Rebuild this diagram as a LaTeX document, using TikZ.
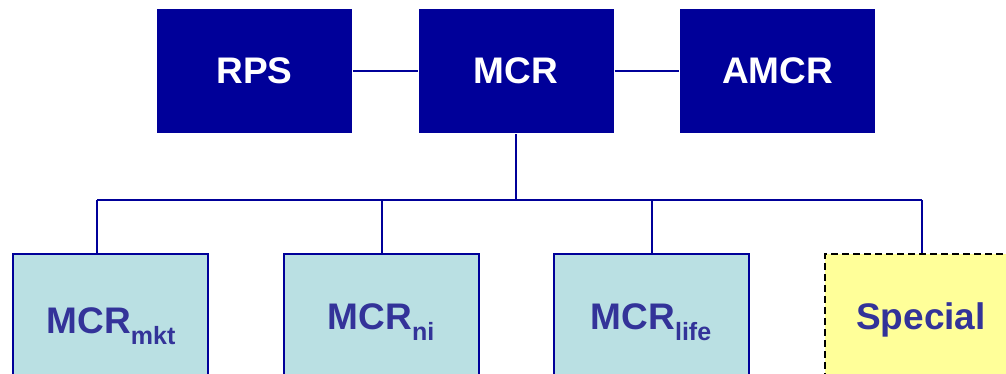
\documentclass[tikz,border=0pt]{standalone}
\usepackage{fontspec}
\setmainfont{Liberation Sans}
\usepackage{tikz}
\definecolor{box_dark}{RGB}{0,0,153}
\definecolor{box_light}{RGB}{186,224,227}
\definecolor{box_yell}{RGB}{255,255,153}
\definecolor{text_blue}{RGB}{51,51,153}
\newcommand\sub[1]{\raisebox{-0.3em}{\fontsize{25}{25}\selectfont#1}}

\begin{document}
\begin{tikzpicture}[x=1pt,y=-1pt,line width=2pt]
    \tikzstyle{unit}=[rectangle, minimum width=195pt, inner sep=0pt, font=\fontsize{37}{37}\selectfont\bfseries]
    \tikzstyle{unitup}=[style=unit, minimum height=124pt, fill=box_dark, text=white]
    \tikzstyle{unitdn}=[style=unit, minimum height=140pt, fill=box_light, draw=box_dark, text=text_blue]
    \tikzstyle{unitsp}=[style=unit, minimum height=140pt, fill=box_yell, draw=black, dash pattern=on 7pt off 4pt, text=text_blue]
    \tikzstyle{caption}=[anchor=base, inner sep=0pt, text=text_blue, font=\fontsize{37}{37}\selectfont\bfseries]
    \tikzstyle{link}=[draw=box_dark, line width=2pt]

    \clip (0,0) rectangle (1006,374);
    \useasboundingbox (0,0) rectangle (1006,374);

    \node[unitup] (RPS)  at (254.5,71) {RPS};
    \node[unitup] (MCR)  at (516,71)   {MCR};
    \node[unitup] (AMCR) at (777.5,71) {AMCR};

    \node[unitdn] (MKT)  at (110,324)  {};
    \node[unitdn] (NI)   at (381,324)  {};
    \node[unitdn] (LIFE) at (651,324)  {};
    \node[unitsp] (SPEC) at (922,324)  {};

    \node[caption] (MKTl)  at (111,333) {MCR\sub{mkt}};
    \node[caption] (NIl)   at (381,329) {MCR\sub{ni}};
    \node[caption] (LIFEl) at (651,329) {MCR\sub{life}};
    \node[caption] (SPECl) at (921,329) {Special};

    \coordinate (bus) at (516,200);
    \coordinate (b1) at (97,200);
    \coordinate (b2) at (382,200);
    \coordinate (b3) at (652,200);
    \coordinate (b4) at (922,200);

    \path[link]
     (RPS) -- (MCR)
     (MCR) -- (AMCR)
     (MCR.south) -- (bus)
     (b1) -- (b4)
     (b1) -- (b1 |- MKT.north)
     (b2) -- (b2 |- NI.north)
     (b3) -- (b3 |- LIFE.north)
     (b4) -- (b4 |- SPEC.north);
\end{tikzpicture}
\end{document}
